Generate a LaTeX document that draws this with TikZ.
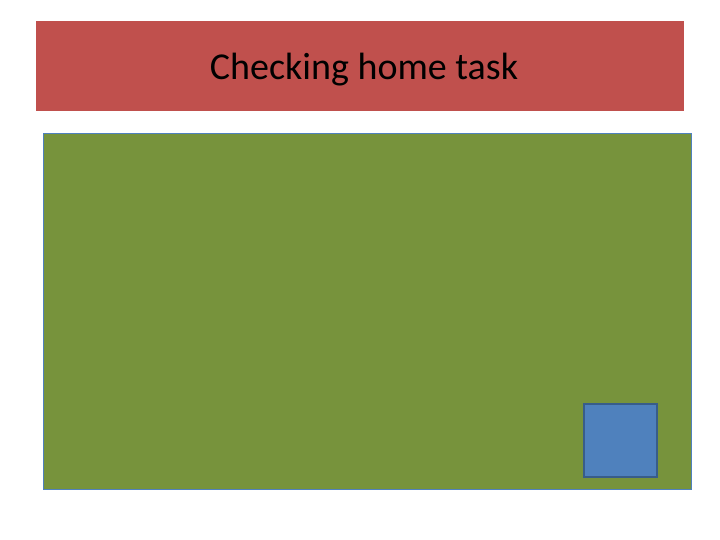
\documentclass[tikz,border=0pt]{standalone}
\usepackage{fontspec}
\setmainfont{Carlito}
\definecolor{bannerred}{HTML}{C0504D}
\definecolor{boardgreen}{HTML}{77933C}
\definecolor{boxblue}{HTML}{4F81BD}
\definecolor{boxline}{HTML}{385D8A}
\tikzset{
  banner/.style={fill=bannerred,draw=none},
  board/.style={fill=boardgreen,draw=boxblue,line width=0.6pt},
  squarebox/.style={fill=boxblue,draw=boxline,line width=2pt}
}
\begin{document}
\begin{tikzpicture}[x=1pt,y=-1pt]
\useasboundingbox (0,0) rectangle (720,540);

\fill[white] (0,0) rectangle (720,540);
\draw[banner] (36,21) rectangle (684,111);
\node[font=\fontsize{38}{44}\selectfont] (title) at (364,70) {Checking home task};

\draw[board] (43,133) rectangle (691,489);
\draw[squarebox] (584,404) rectangle (657,477);

\end{tikzpicture}
\end{document}
